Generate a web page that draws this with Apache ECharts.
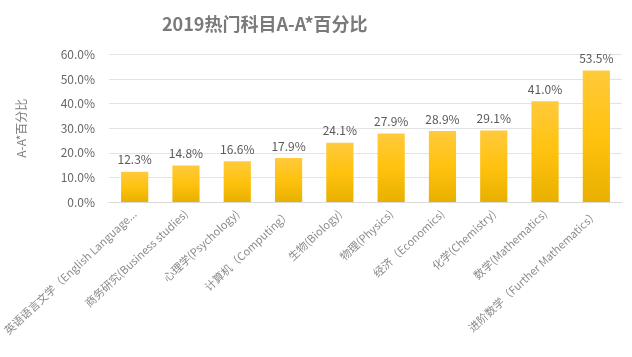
<!DOCTYPE html>
<html><head><meta charset="utf-8">
<script src="https://cdn.jsdelivr.net/npm/echarts@6/dist/echarts.min.js"></script>
<style>html,body{margin:0;padding:0;background:#fff}#c{width:632px;height:357px}</style>
</head><body><div id="c"></div>
<script>
const categories = ['英语语言文学（English Language...','商务研究(Business studies)','心理学(Psychology)','计算机（Computing）','生物(Biology)','物理(Physics)','经济（Economics)','化学(Chemistry)','数学(Mathematics)','进阶数学（Further Mathematics）'];
const values = [12.3, 14.8, 16.6, 17.9, 24.1, 27.9, 28.9, 29.1, 41.0, 53.5];
const yTicks = [0, 10, 20, 30, 40, 50, 60];

const chart = echarts.init(document.getElementById('c'));
chart.setOption({
  animation: false,
  textStyle: {fontFamily: '"Noto Sans CJK SC", "Open Sans", sans-serif'},
  title: {
    text: '2019热门科目A-A*百分比', left: 157, top: 10,
    textStyle: {fontSize: 18, fontWeight: 'bold', color: '#7a7a7a', fontFamily: '"Noto Sans CJK SC", sans-serif'}
  },
  grid: {left: 108, right: 10, top: 54.5, bottom: 155},
  xAxis: {
    type: 'category', data: categories,
    axisLine: {lineStyle: {color: '#d9d9d9'}},
    axisTick: {show: false},
    axisLabel: {rotate: 43, interval: 0, color: '#8a8a8a', fontSize: 11, margin: 10}
  },
  yAxis: {
    type: 'value', min: yTicks[0], max: yTicks[yTicks.length - 1], interval: 10,
    name: 'A-A*百分比', nameLocation: 'middle', nameGap: 82, nameRotate: 90,
    nameTextStyle: {color: '#7f7f7f', fontSize: 12},
    axisLine: {show: false}, axisTick: {show: false},
    axisLabel: {formatter: v => v.toFixed(1) + '%', color: '#666', fontSize: 12, margin: 14},
    splitLine: {lineStyle: {color: '#e3e3e3'}}
  },
  series: [{
    type: 'bar', data: values, barWidth: '53%',
    itemStyle: {
      color: new echarts.graphic.LinearGradient(0, 0, 0, 1, [
        {offset: 0, color: '#ffca3c'}, {offset: 0.5, color: '#ffc20e'}, {offset: 1, color: '#e9b000'}
      ])
    },
    label: {show: true, position: 'top', distance: 6, formatter: p => p.value.toFixed(1) + '%', color: '#595959', fontSize: 12}
  }]
});
</script></body></html>
